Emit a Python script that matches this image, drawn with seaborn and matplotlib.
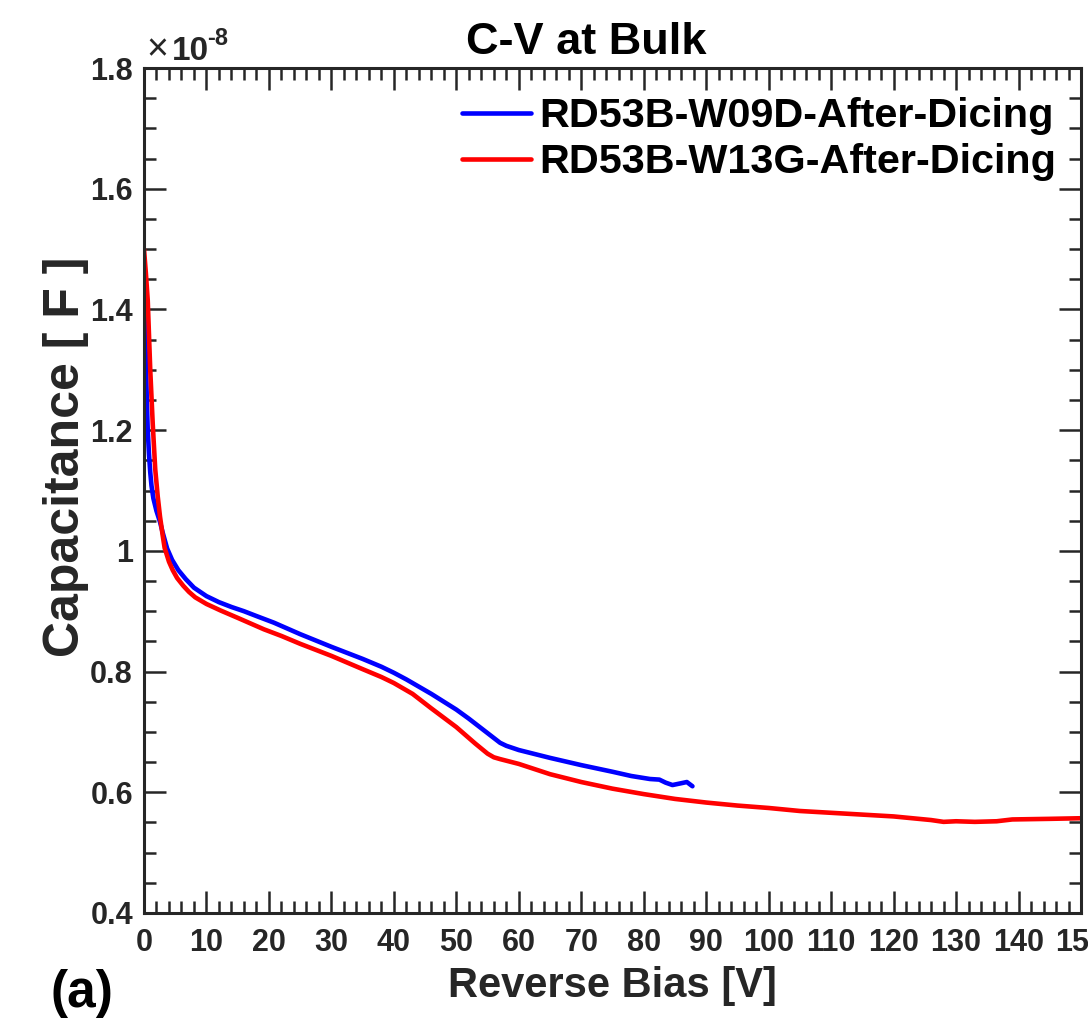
import numpy as np
import pandas as pd
import matplotlib
matplotlib.use("Agg")
import matplotlib.pyplot as plt
import seaborn as sns
from matplotlib.ticker import MultipleLocator, FuncFormatter
from matplotlib.lines import Line2D

# ---- data (capacitance in units of 1e-8 F) ----
blue_label = "RD53B-W09D-After-Dicing"
red_label = "RD53B-W13G-After-Dicing"

blue_v = [0, 0.2, 0.45, 0.6, 0.8, 1.0, 1.2, 1.5, 2.0, 2.56, 3.0, 3.7, 4.5, 5.5, 6.7, 8, 10, 12,
          14, 16, 18, 20.8, 25, 30, 35, 38, 40, 42, 44, 46, 48, 50, 52, 54, 56, 57, 58, 60, 65,
          70, 75, 78, 81, 82.5, 83.5, 84.6, 86, 86.9, 87.8]
blue_c = [1.47, 1.36, 1.25, 1.20, 1.16, 1.13, 1.108, 1.087, 1.066, 1.048, 1.03, 1.004, 0.985,
          0.968, 0.953, 0.939, 0.925, 0.915, 0.907, 0.900, 0.892, 0.881, 0.862, 0.841, 0.821,
          0.808, 0.798, 0.787, 0.775, 0.763, 0.750, 0.737, 0.722, 0.706, 0.690, 0.682, 0.677,
          0.670, 0.657, 0.645, 0.634, 0.627, 0.622, 0.621, 0.616, 0.612, 0.615, 0.617, 0.610]

red_v = [0, 0.3, 0.6, 1.0, 1.4, 1.8, 2.2, 2.56, 3.0, 3.3, 4, 4.6, 5.3, 6.3, 7.2, 8.2, 10, 12.3,
         15, 19.2, 22, 25, 30, 35, 38, 40, 41.5, 43, 44.5, 46, 50, 53, 55, 56, 57, 60, 65, 70,
         75, 80, 85, 90, 95, 100, 105, 110, 115, 120, 126, 128, 130, 133, 136.5, 139, 145, 150]
red_c = [1.50, 1.46, 1.415, 1.30, 1.21, 1.135, 1.09, 1.057, 1.025, 1.005, 0.982, 0.968,
         0.955, 0.942, 0.932, 0.923, 0.912, 0.901, 0.889, 0.870, 0.859, 0.846, 0.826, 0.804,
         0.791, 0.781, 0.772, 0.763, 0.751, 0.739, 0.708, 0.681, 0.664, 0.658, 0.655, 0.647,
         0.630, 0.617, 0.606, 0.597, 0.589, 0.583, 0.578, 0.574, 0.569, 0.566, 0.563, 0.560,
         0.554, 0.551, 0.552, 0.551, 0.552, 0.555, 0.556, 0.557]

x_ticks = list(range(0, 151, 10))
y_ticks = [0.4, 0.6, 0.8, 1.0, 1.2, 1.4, 1.6, 1.8]

df = pd.concat([
    pd.DataFrame({"V": blue_v, "C": np.array(blue_c) * 1e-8, "s": blue_label}),
    pd.DataFrame({"V": red_v, "C": np.array(red_c) * 1e-8, "s": red_label}),
], ignore_index=True)

sns.set_style("ticks")
plt.rcParams["font.family"] = ["Liberation Sans", "DejaVu Sans"]

dark = "#262626"
fig = plt.figure(figsize=(10.88, 10.24), dpi=100)
ax = fig.add_axes([144 / 1088, 1 - 913 / 1024, (1081 - 144) / 1088, (913 - 68) / 1024])

sns.lineplot(data=df, x="V", y="C", hue="s", palette={blue_label: "#0000ff", red_label: "#ff0000"},
             sort=False, estimator=None, linewidth=3.3, ax=ax, legend=False)

ax.set_xlim(0, 150)
ax.set_ylim(0.4e-8, 1.8e-8)
ax.set_xticks(x_ticks)
ax.set_yticks([v * 1e-8 for v in y_ticks])
ax.xaxis.set_minor_locator(MultipleLocator(2))
ax.yaxis.set_minor_locator(MultipleLocator(0.05e-8))
ax.yaxis.set_major_formatter(FuncFormatter(lambda v, p: f"{v / 1e-8:g}"))

for s in ax.spines.values():
    s.set_linewidth(2.2)
    s.set_color(dark)
    s.set_visible(True)
ax.tick_params(which="both", direction="in", top=True, right=True, color=dark, width=1.8)
ax.tick_params(which="major", length=16, labelsize=22, labelcolor=dark)
ax.tick_params(axis="x", which="major", pad=11)
ax.tick_params(axis="y", which="major", pad=8)
ax.tick_params(which="minor", length=8.5)
for lab in ax.get_xticklabels() + ax.get_yticklabels():
    lab.set_fontweight("bold")

ax.set_xlabel("Reverse Bias [V]", fontsize=30, fontweight="bold", color=dark)
ax.xaxis.set_label_coords(0.5, -(966 - 913) / 845)
ax.set_ylabel("Capacitance [ F ]", fontsize=36, fontweight="bold", color=dark)
ax.yaxis.set_label_coords((89 - 144) / 937, 0.54)

fig.text(586 / 1088, 1 - 43 / 1024, "C-V at Bulk", ha="center", va="center",
         fontsize=32.5, fontweight="bold", color="black")

# offset (exponent) text at the top-left of the axes
ax.annotate("\u00d7", xy=(0, 1), xycoords="axes fraction", xytext=(2, 8),
            textcoords="offset pixels", ha="left", va="baseline", fontsize=27,
            color=dark, fontweight="normal")
ax.annotate("10", xy=(0, 1), xycoords="axes fraction", xytext=(28, 8),
            textcoords="offset pixels", ha="left", va="baseline", fontsize=24,
            color=dark, fontweight="bold")
ax.annotate("-8", xy=(0, 1), xycoords="axes fraction", xytext=(63, 23),
            textcoords="offset pixels", ha="left", va="baseline", fontsize=17,
            color=dark, fontweight="bold")

fig.text(82 / 1088, 1 - 993 / 1024, "(a)", ha="center", va="center", fontsize=37,
         fontweight="bold", color="black")

handles = [Line2D([], [], color="#0000ff", lw=3.3), Line2D([], [], color="#ff0000", lw=3.3)]
leg = ax.legend(handles, [blue_label, red_label], loc="upper right",
                bbox_to_anchor=(1056 / 1088, 1 - 97 / 1024), bbox_transform=fig.transFigure,
                frameon=False, fontsize=29.8, handlelength=1.67, handletextpad=0.19,
                labelspacing=0.2, borderaxespad=0, borderpad=0)
for t in leg.get_texts():
    t.set_fontweight("bold")
    t.set_color("black")

fig.savefig("out.png", dpi=100)
